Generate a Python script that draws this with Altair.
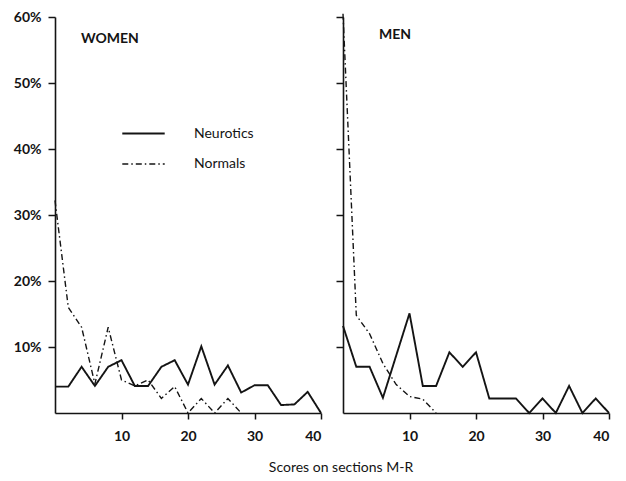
import altair as alt
import pandas as pd

# ---- data ----
score_all = [0, 2, 4, 6, 8, 10, 12, 14, 16, 18, 20, 22, 24, 26, 28, 30, 32, 34, 36, 38, 40]
women_neurotics = [4.0, 4.0, 7.0, 4.1, 7.0, 8.0, 4.1, 4.1, 7.0, 8.0, 4.3, 10.1, 4.3, 7.2, 3.1, 4.2, 4.2, 1.2, 1.3, 3.2, 0.0]
women_normals_x = [0, 2, 4, 6, 8, 10, 12, 14, 16, 18, 20, 22, 24, 26, 28]
women_normals = [32.2, 16.0, 13.0, 4.4, 13.0, 5.0, 4.1, 5.0, 2.2, 4.0, 0.0, 2.2, 0.0, 2.2, 0.0]
men_neurotics = [13.2, 7.0, 7.0, 2.3, 8.7, 15.1, 4.1, 4.1, 9.2, 7.0, 9.2, 2.2, 2.2, 2.2, 0.0, 2.2, 0.0, 4.1, 0.0, 2.2, 0.0]
men_normals_x = [0, 2, 4, 6, 8, 10, 12, 14]
men_normals = [60.5, 14.8, 12.0, 7.5, 4.3, 2.5, 2.1, 0.0]

groups = ["Neurotics", "Normals"]
y_ticks = [10, 20, 30, 40, 50, 60]
x_ticks = [10, 20, 30, 40]


def frame(xs_a, ys_a, xs_b, ys_b):
    rows = [{"score": x, "pct": y, "group": groups[0]} for x, y in zip(xs_a, ys_a)]
    rows += [{"score": x, "pct": y, "group": groups[1]} for x, y in zip(xs_b, ys_b)]
    return pd.DataFrame(rows)


women_df = frame(score_all, women_neurotics, women_normals_x, women_normals)
men_df = frame(score_all, men_neurotics, men_normals_x, men_normals)

FONT = "Lato"
INK = "#141414"

dash_scale = alt.Scale(domain=groups, range=[[1, 0], [6, 3, 1.5, 3]])
width_scale = alt.Scale(domain=groups, range=[1.9, 1.4])

x_scale = alt.Scale(domain=[0, 40], nice=False)
y_scale = alt.Scale(domain=[0, 60], nice=False)


def panel(df, name, show_labels, show_legend):
    y_axis = alt.Axis(
        values=y_ticks,
        labels=show_labels,
        labelExpr="datum.value + '%'",
        tickSize=7,
        labelPadding=7,
        title=None,
        grid=False,
    )
    x_axis = alt.Axis(
        values=x_ticks,
        format="d",
        tickSize=6,
        labelPadding=10,
        title=None,
        grid=False,
    )
    if show_legend:
        legend = alt.Legend(
            orient="none",
            legendX=66,
            legendY=94,
            title=None,
            symbolType="stroke",
            symbolSize=1800,
            symbolStrokeWidth=1.6,
            symbolStrokeColor=INK,
            labelFont=FONT,
            labelFontSize=14,
            labelColor=INK,
            labelOffset=28,
            rowPadding=1,
        )
    else:
        legend = None
    return (
        alt.Chart(df)
        .mark_line(color=INK)
        .encode(
            x=alt.X("score:Q", scale=x_scale, axis=x_axis),
            y=alt.Y("pct:Q", scale=y_scale, axis=y_axis),
            strokeDash=alt.StrokeDash("group:N", scale=dash_scale, legend=legend),
            strokeWidth=alt.StrokeWidth("group:N", scale=width_scale, legend=None),
            detail="group:N",
        )
        .properties(
            width=266,
            height=396,
            title=alt.TitleParams(
                name,
                anchor="start",
                orient="top",
                frame="group",
                dx=26 if show_labels else 36,
                dy=36 if show_labels else 31,
                offset=0,
                font=FONT,
                fontSize=14,
                fontWeight="bold",
                color=INK,
            ),
        )
    )


left = panel(women_df, "WOMEN", True, True)
right = panel(men_df, "MEN", False, False)

chart = (
    alt.hconcat(left, right, spacing=10)
    .resolve_scale(strokeDash="independent", strokeWidth="independent")
    .resolve_legend(strokeDash="independent", strokeWidth="independent")
    .properties(
        title=alt.TitleParams(
            "Scores on sections M-R",
            orient="bottom",
            anchor="middle",
            dx=28,
            offset=18,
            font=FONT,
            fontSize=14,
            fontWeight="normal",
            color=INK,
        ),
        padding={"left": 5, "top": 2, "right": 1, "bottom": 0},
    )
    .configure_view(stroke=None)
    .configure_axis(
        domainColor=INK,
        domainWidth=1.6,
        tickColor=INK,
        tickWidth=1.5,
        labelFont=FONT,
        labelFontSize=14,
        labelFontWeight="bold",
        labelColor=INK,
    )
)

chart.save("out.html", embed_options={"renderer": "svg", "actions": False})
